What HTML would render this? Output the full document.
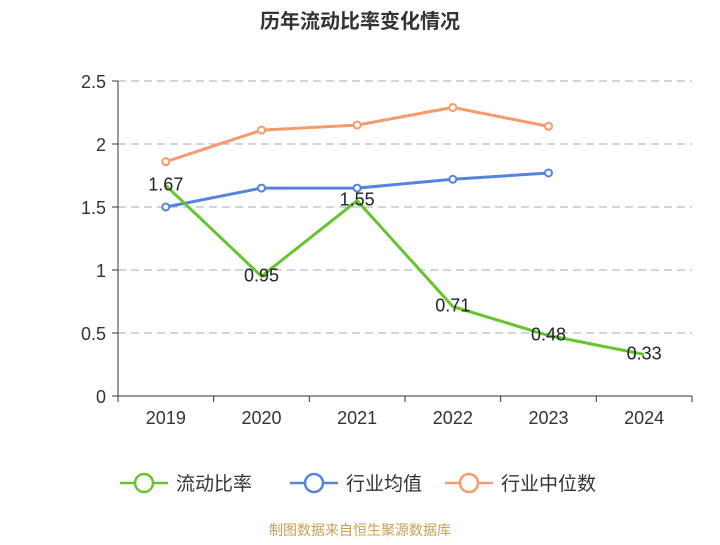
<!DOCTYPE html>
<html><head><meta charset="utf-8"><style>
body{margin:0;background:#fff;font-family:"Liberation Sans","Noto Sans CJK SC",sans-serif}
</style></head><body>
<svg width="720" height="540" xmlns="http://www.w3.org/2000/svg" id="c">
<text x="360" y="28" text-anchor="middle" font-size="20" font-weight="bold" fill="#333">历年流动比率变化情况</text>
<text x="360" y="535" text-anchor="middle" font-size="14" fill="#c8a055">制图数据来自恒生聚源数据库</text>
</svg>
<script>
const categories=["2019","2020","2021","2022","2023","2024"];
const ratio=[1.67,0.95,1.55,0.71,0.48,0.33];
const industryAvg=[1.5,1.65,1.65,1.72,1.77];
const industryMedian=[1.86,2.11,2.15,2.29,2.14];
const yTicks=[0,0.5,1,1.5,2,2.5];
const svg=document.getElementById('c');
const NS="http://www.w3.org/2000/svg";
const x0=118,x1=692,y0=396,y1=81;
const bw=(x1-x0)/categories.length;
const X=i=>x0+bw*(i+0.5);
const Y=v=>y0-(v/2.5)*(y0-y1);
function el(t,a,p){const e=document.createElementNS(NS,t);for(const k in a)e.setAttribute(k,a[k]);(p||svg).appendChild(e);return e;}
yTicks.forEach(v=>{
 if(v>0){const g=el('line',{x1:x0,x2:x1,y1:Y(v),y2:Y(v),stroke:'#aaa','stroke-dasharray':'8,5'});
 
 }
 const tk=el('line',{x1:x0-6,x2:x0,y1:Y(v),y2:Y(v),stroke:'#333'});
 
 
 const t=el('text',{x:x0-12,y:Y(v)+7,'text-anchor':'end','font-size':18,fill:'#333'});t.textContent=v;
 
 
});
const ya=el('line',{x1:x0,x2:x0,y1:y1,y2:y0,stroke:'#333'});


const xa=el('line',{x1:x0,x2:x1,y1:y0,y2:y0,stroke:'#333'});


for(let i=0;i<=categories.length;i++){const t=el('line',{x1:x0+bw*i,x2:x0+bw*i,y1:y0,y2:y0+6,stroke:'#333'});

}
categories.forEach((c,i)=>{const t=el('text',{x:X(i),y:y0+28,'text-anchor':'middle','font-size':18,fill:'#333'});t.textContent=c;

});
function series(d,color,name,labels){
 const p=el('polyline',{points:d.map((v,i)=>X(i)+','+Y(v)).join(' '),fill:'none',stroke:color,'stroke-width':3});
 
 
 d.forEach((v,i)=>{
  if(!labels){const c=el('circle',{cx:X(i),cy:Y(v),r:3.5,fill:'#fff',stroke:color,'stroke-width':2});
  
  }
  else{const t=el('text',{x:X(i),y:Y(v)+5,'text-anchor':'middle','font-size':18,fill:'#222'});t.textContent=v.toFixed(2);
  
  }
 });
}
series(industryMedian,'#f79a6c','industry-median',false);
series(industryAvg,'#5584dc','industry-average',false);
series(ratio,'#66c52e','current-ratio',true);
const leg=[["流动比率","#66c52e",120],["行业均值","#5584dc",290],["行业中位数","#f79a6c",445]];
leg.forEach(([n,c,x])=>{
 const g=el('g',{});
 
 
 el('line',{x1:x,x2:x+48,y1:483,y2:483,stroke:c,'stroke-width':2.5},g);
 el('circle',{cx:x+24,cy:483,r:9,fill:'#fff',stroke:c,'stroke-width':2.5},g);
 const t=el('text',{x:x+56,y:490,'font-size':19,fill:'#333'},g);t.textContent=n;
});
</script>
</body></html>
